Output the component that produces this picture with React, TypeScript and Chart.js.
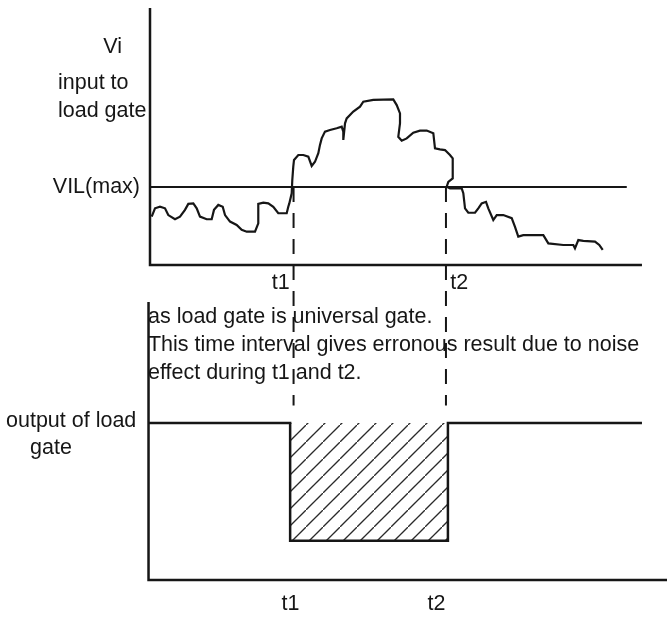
import { useEffect, useRef } from "react";
import { Chart, registerables } from "chart.js";

Chart.register(...registerables);

// ---- data (time in arbitrary units, t = 0 at the vertical axes) ----
const inputTime = [
  0.35, 1.02, 2.04, 3.06, 3.73, 5.1, 6.12, 7.14, 7.82, 8.84, 9.53, 10.2, 11.57, 12.59, 13.06, 13.94,
  14.84, 15.31, 16.33, 17.69, 18.71, 19.73, 21.43, 22.1, 22.1, 23.12, 24.14, 25.16, 26.18, 27.9, 28.22,
  28.43, 28.92, 29.04, 29.24, 29.39, 30.27, 31.29, 32.31, 33.0, 33.67, 34.35, 34.69, 35.04, 35.71, 36.73,
  38.1, 39.12, 39.45, 39.45, 39.8, 40.14, 41.49, 42.86, 43.53, 45.57, 49.65, 50.35, 51.02, 51.02, 50.67,
  51.37, 52.39, 53.73, 55.1, 56.47, 57.82, 58.16, 59.18, 60.2, 61.22, 61.78, 61.78, 60.88, 60.55, 61.22,
  63.61, 63.94, 64.29, 64.96, 66.33, 67.0, 67.69, 68.57, 69.04, 70.06, 70.76, 72.1, 73.82, 74.49, 75.16,
  76.18, 80.27, 81.29, 84.35, 86.39, 86.73, 87.41, 88.43, 90.82, 91.69, 92.39,
];
const inputVi = [
  1.86, 2.18, 2.24, 2.18, 1.92, 1.76, 1.86, 2.12, 2.35, 2.37, 2.18, 1.86, 1.76, 1.76, 2.12, 2.31,
  2.24, 1.92, 1.67, 1.54, 1.35, 1.28, 1.28, 1.6, 2.35, 2.4, 2.37, 2.24, 1.99, 1.99, 2.24,
  2.37, 2.76, 3.27, 3.78, 4.04, 4.23, 4.23, 4.17, 3.81, 3.97, 4.3, 4.62, 4.87, 5.13, 5.19,
  5.26, 5.32, 5.13, 4.81, 5.45, 5.64, 5.9, 6.09, 6.28, 6.35, 6.37, 6.15, 5.83, 5.45, 4.93,
  4.78, 4.87, 5.09, 5.17, 5.17, 5.07, 4.49, 4.45, 4.42, 4.23, 4.1, 3.33, 3.2, 3.01, 2.95,
  2.95, 2.76, 2.18, 2.01, 2.01, 2.18, 2.37, 2.43, 2.18, 1.73, 1.92, 1.92, 1.8, 1.47, 1.09,
  1.15, 1.15, 0.83, 0.77, 0.77, 0.64, 0.96, 0.93, 0.9, 0.77, 0.58,
];
const VIL_MAX = 3.0;
const T1 = 29.3;
const T2 = 60.4;

const outputTime = [-0.3, 28.6, 28.6, 60.8, 60.8, 100.4];
const outputLevel = [4, 4, 1, 1, 4, 4];
const OUTPUT_HIGH = 4;

// axes drawn as polylines (top panel on y, bottom panel on y2)
const topAxisTime = [0, 0, 100.4];
const topAxisVi = [9.88, 0, 0];
const vilTime = [0, 97.3];
const bottomAxisTime = [-0.3, -0.3, 110];
const bottomAxisLevel = [7.08, 0, 0];
const dashTop = VIL_MAX;
const dashBottom = -5.4;

// text labels (anchor in data units)
const labelText = [
  "Vi", "input to", "load gate", "VIL(max)", "t1", "t2",
  "as load gate is universal gate.",
  "This time interval gives erronous result due to noise",
  "effect during t1 and t2.",
  "output of load", "gate", "t1", "t2",
];
const labelX = [-5.71, -18.78, -18.78, -2.04, 26.7, 63.1, -0.41, -0.41, -0.41, -29.39, -24.49, 28.67, 58.47];
const labelY = [8.38, 7.0, 5.92, 3.0, -0.69, -0.69, -2.0, -3.08, -4.15, 4.05, 3.36, -0.61, -0.61];
const labelAxis = ["y", "y", "y", "y", "y", "y", "y", "y", "y", "y2", "y2", "y2", "y2"];
const labelAlign = ["right", "left", "left", "right", "center", "center", "left", "left", "left", "left", "left", "center", "center"];

const INK = "#161616";

function pts(xs: number[], ys: number[]) {
  return xs.map((x, i) => ({ x, y: ys[i] }));
}

function makeHatch(): CanvasPattern | string {
  const c = document.createElement("canvas");
  c.width = 17;
  c.height = 17;
  const g = c.getContext("2d");
  if (!g) return "rgba(0,0,0,0.2)";
  g.strokeStyle = "#2a2a2a";
  g.lineWidth = 1.3;
  g.beginPath();
  g.moveTo(-2, 19);
  g.lineTo(19, -2);
  g.stroke();
  return g.createPattern(c, "repeat") || "rgba(0,0,0,0.2)";
}

const textPlugin = {
  id: "diagramText",
  afterDatasetsDraw(chart: any) {
    const { ctx, scales } = chart;
    ctx.save();
    ctx.font = '21.5px "Liberation Sans", Arial, sans-serif';
    ctx.fillStyle = INK;
    ctx.textBaseline = "middle";
    labelText.forEach((t, i) => {
      ctx.textAlign = labelAlign[i];
      ctx.fillText(t, scales.x.getPixelForValue(labelX[i]), scales[labelAxis[i]].getPixelForValue(labelY[i]));
    });
    ctx.restore();
  },
};

export default function App() {
  const ref = useRef<HTMLCanvasElement>(null);
  useEffect(() => {
    document.body.style.margin = "0";
    const canvas = ref.current;
    if (!canvas) return;
    const hatch = makeHatch();
    const base = { pointRadius: 0, borderColor: INK, fill: false, tension: 0 };
    const chart = new Chart(canvas, {
      type: "line",
      data: {
        datasets: [
          { ...base, data: pts(topAxisTime, topAxisVi), borderWidth: 2.5, yAxisID: "y" },
          { ...base, data: pts(vilTime, [VIL_MAX, VIL_MAX]), borderWidth: 2, yAxisID: "y" },
          { ...base, data: pts([T1, T1], [dashTop, dashBottom]), borderWidth: 2, borderDash: [15, 11], yAxisID: "y" },
          { ...base, data: pts([T2, T2], [dashTop, dashBottom]), borderWidth: 2, borderDash: [15, 11], yAxisID: "y" },
          { ...base, data: pts(inputTime, inputVi), borderWidth: 2.2, yAxisID: "y" },
          { ...base, data: pts(bottomAxisTime, bottomAxisLevel), borderWidth: 2.5, yAxisID: "y2" },
          {
            ...base,
            data: pts(outputTime, outputLevel),
            borderWidth: 2.5,
            yAxisID: "y2",
            fill: { value: OUTPUT_HIGH },
            backgroundColor: hatch as any,
          },
        ],
      },
      options: {
        animation: false,
        responsive: false,
        maintainAspectRatio: false,
        layout: { padding: 0 },
        events: [],
        plugins: { legend: { display: false }, tooltip: { enabled: false }, title: { display: false } },
        scales: {
          x: { type: "linear", display: false, min: -150 / 4.9, max: 517 / 4.9 },
          y: { type: "linear", display: false, min: (265 - 618) / 26, max: 265 / 26 },
          y2: { type: "linear", display: false, min: (580 - 618) / 39.25, max: 580 / 39.25 },
        },
      },
      plugins: [textPlugin],
    } as any);
    return () => chart.destroy();
  }, []);
  return (
    <canvas
      ref={ref}
      width={667}
      height={618}
      style={{ display: "block", width: "667px", height: "618px" }}
    />
  );
}
